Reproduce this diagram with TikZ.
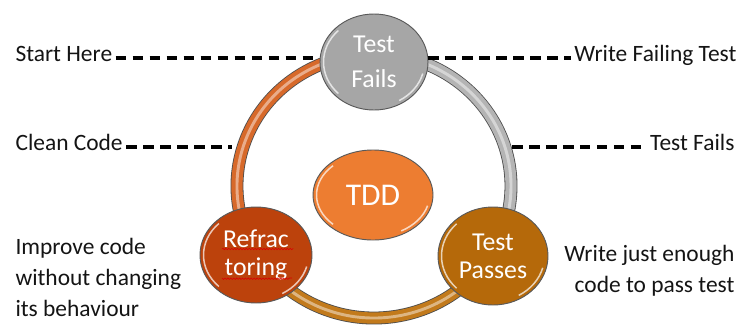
\documentclass[tikz,border=0pt]{standalone}
\usepackage{fontspec}
\setmainfont{Carlito}
\usetikzlibrary{shapes.geometric,calc,decorations.pathmorphing}
\definecolor{ink}{HTML}{141414}
\definecolor{failgray}{HTML}{A6A6A6}
\definecolor{tddorange}{HTML}{ED7D31}
\definecolor{refred}{HTML}{BC420C}
\definecolor{passbrown}{HTML}{B5690A}
\definecolor{ringcopper}{HTML}{D7692A}
\definecolor{ringgold}{HTML}{C27A1C}
\definecolor{ringgray}{HTML}{B4B4B4}

\begin{document}
\begin{tikzpicture}[x=0.03cm,y=-0.03cm,text=ink,
 note/.style={font=\fontsize{20}{23}\selectfont,inner sep=0pt,outer sep=3pt},
 oneline/.style={text height=0.644em,text depth=0pt},
 ball/.style={ellipse,draw=black!65,line width=0.8pt,inner sep=0pt,text=white,align=center,font=\fontsize{22}{24}\selectfont,
  path picture={\draw[white,opacity=.7,line width=1.3pt] let \p1=(path picture bounding box.north east),\p2=(path picture bounding box.center),\n1={\x1-\x2-3pt},\n2={\y1-\y2-3pt} in
   (\x2,\y2) ++(135:\n1 and \n2) arc[start angle=135,end angle=225,x radius=\n1,y radius=\n2]
   (\x2,\y2) ++(-60:\n1 and \n2) arc[start angle=-60,end angle=-15,x radius=\n1,y radius=\n2];}},
 lead/.style={dash pattern=on 9pt off 5.5pt,line width=2.6pt,draw=black},
 rim/.style={line width=11pt,draw=black!70},
 band/.style={line width=9.6pt},
 gleam/.style={line width=2.5pt,draw=white,opacity=.45}]
 \useasboundingbox (0,0) rectangle (743,327);
 \coordinate (ctr) at (374,186);
 % ring in three coloured pieces
 \foreach \from/\to/\col in {90/-30/ringgray,-30/-150/ringgold,210/90/ringcopper}{
  \draw[rim] (ctr) ++(\from:4.11cm and 3.96cm) arc[start angle=\from,end angle=\to,x radius=4.11cm,y radius=3.96cm];
  \draw[band,draw=\col] (ctr) ++(\from:4.11cm and 3.96cm) arc[start angle=\from,end angle=\to,x radius=4.11cm,y radius=3.96cm];
  \draw[gleam] (ctr) ++(\from:4.11cm and 3.96cm) arc[start angle=\from,end angle=\to,x radius=4.11cm,y radius=3.96cm];
 }
 \node[ball,fill=failgray,minimum width=3.24cm,minimum height=2.88cm] (fails) at (374,62) {Test\\[6pt]Fails};
 \node[ball,fill=tddorange,minimum width=3.6cm,minimum height=2.7cm,font=\fontsize{27}{32}\selectfont] (tdd) at (373,195) {TDD};
 \node[ball,fill=refred,minimum width=3.36cm,minimum height=2.88cm] (refac) at (256,255) {Refrac\\toring};
 \node[ball,fill=passbrown,minimum width=3.3cm,minimum height=2.94cm] (passes) at (493,256) {Test\\Passes};
 \draw[red!85!black,line width=0.5pt,decorate,decoration={snake,amplitude=0.6pt,segment length=2.5pt}] ($(refac.center)+(-34,-6)$) -- ++(70,0) ($(refac.center)+(-34,23)$) -- ++(70,0);
 \node[note,oneline,anchor=west] (start) at (12,58) {Start Here};
 \node[note,oneline,anchor=east] (wft) at (740,58) {Write Failing Test};
 \node[note,oneline,anchor=west] (clean) at (12,147) {Clean Code};
 \node[note,oneline,anchor=east] (tfails) at (738,147) {Test Fails};
 \node[note,anchor=west,align=left,font=\fontsize{20}{26.5}\selectfont] (improve) at (12,277) {Improve code\\without changing\\its behaviour};
 \node[note,anchor=east,align=right,font=\fontsize{20}{26.5}\selectfont] (enough) at (738,271) {Write just enough\\code to pass test};
 \coordinate (ringW) at (232,147);
 \coordinate (ringE) at (512,147);
 \draw[lead] (start) -- (start -| fails.west);
 \draw[lead] (fails.east |- wft) -- (wft);
 \draw[lead] (clean) -- (ringW);
 \draw[lead] (ringE) -- (tfails);
\end{tikzpicture}
\end{document}
